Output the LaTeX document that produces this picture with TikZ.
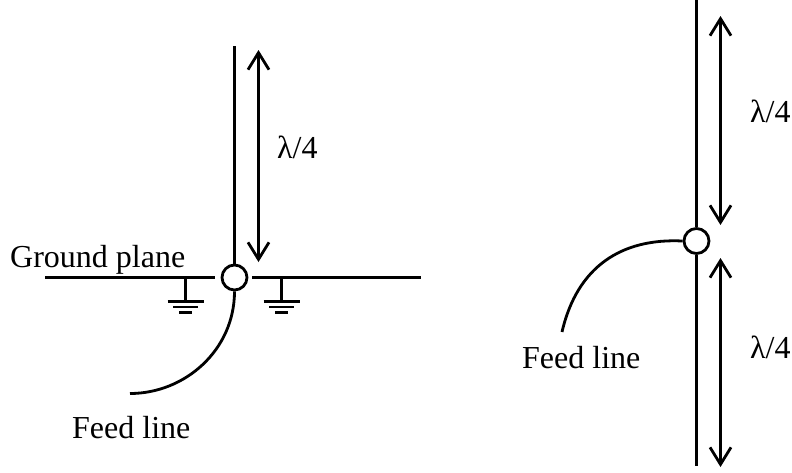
\documentclass[tikz,border=0pt]{standalone}
\usepackage{fontspec}
\setmainfont{Liberation Serif}
\usetikzlibrary{arrows.meta}
\tikzset{
  wire/.style={line width=2.8pt,black},
  dim/.style={line width=2.8pt,black,{Straight Barb[length=17pt,width=21pt,line width=2.8pt]}-{Straight Barb[length=17pt,width=21pt,line width=2.8pt]}},
  port/.style={circle,draw,line width=2.8pt,fill=white,minimum size=25pt,inner sep=0pt},
  lbl/.style={font=\fontsize{32}{36}\selectfont,inner sep=0pt,anchor=base west},
}
\begin{document}
\begin{tikzpicture}[x=1pt,y=-1pt]
\useasboundingbox (0,0) rectangle (792,472);
% left antenna
\node[port] (pa) at (234.5,277.5) {};
\coordinate (atop) at (234.5,46);
\draw[wire] (atop) -- (pa.north);
\coordinate (gl1) at (45,277.5);
\coordinate (gl2) at (215,277.5);
\coordinate (gr1) at (252,277.5);
\coordinate (gr2) at (421,277.5);
\draw[wire] (gl1) -- (gl2);
\draw[wire] (gr1) -- (gr2);
\coordinate (aup) at (258.5,50);
\coordinate (adn) at (258.5,262);
\draw[dim] (aup) -- (adn);
\foreach \n/\x in {a/185.5,b/281.5}{
  \coordinate (t\n) at (\x,277.5);
  \coordinate (s\n) at (\x,301.5);
  \draw[wire] (t\n) -- (s\n);
  \draw[wire] (\x-18,301.5) -- (\x+18,301.5);
  \draw[wire] (\x-12.5,307) -- (\x+12.5,307);
  \draw[wire] (\x-6.5,312.5) -- (\x+6.5,312.5);
}
\coordinate (fa) at (130,393.5);
\draw[wire] (pa.south) .. controls (234.5,350) and (185,393.5) .. (fa);
\node[lbl] (gp) at (10,267) {Ground plane};
\node[lbl] (la) at (277,158) {λ/4};
\node[lbl] (fla) at (72,438) {Feed line};
% right antenna
\node[port] (pb) at (696.5,241) {};
\coordinate (bt) at (696.5,0);
\coordinate (bb) at (696.5,466);
\draw[wire] (bt) -- (pb.north);
\draw[wire] (pb.south) -- (bb);
\coordinate (u1) at (720.5,16);
\coordinate (u2) at (720.5,225);
\coordinate (d1) at (720.5,258);
\coordinate (d2) at (720.5,467);
\draw[dim] (u1) -- (u2);
\draw[dim] (d1) -- (d2);
\coordinate (fb) at (562,332);
\draw[wire] (pb.west) .. controls (621,238) and (577,267) .. (fb);
\node[lbl] (lb1) at (750,122) {λ/4};
\node[lbl] (lb2) at (750,358) {λ/4};
\node[lbl] (flb) at (522,368) {Feed line};
\end{tikzpicture}
\end{document}
